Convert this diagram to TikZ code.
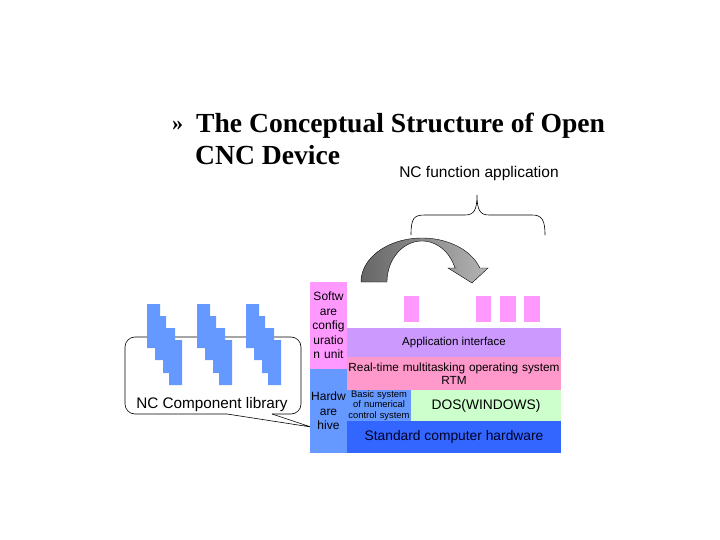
\documentclass[tikz,border=0pt]{standalone}
\usepackage{fontspec}
\setmainfont{Liberation Sans}
\newfontfamily\titlefont{Liberation Serif}
\definecolor{softpink}{HTML}{FF99FF}
\definecolor{hiveblue}{HTML}{6699FF}
\definecolor{applav}{HTML}{CC99FF}
\definecolor{rtpink}{HTML}{FF99CC}
\definecolor{dosgreen}{HTML}{CCFFCC}
\definecolor{stdblue}{HTML}{3366FF}
\definecolor{arrowdark}{HTML}{666666}
\definecolor{arrowlight}{HTML}{B4B4B4}
\tikzset{
  blk/.style={inner sep=0pt, outer sep=0pt, align=center},
  fs/.style={font=\fontsize{#1}{#1}\selectfont},
}
\begin{document}
\begin{tikzpicture}[x=1pt,y=-1pt]
\useasboundingbox (0,0) rectangle (720,540);
% title
\node[anchor=base west, inner sep=0, font=\titlefont\bfseries\fontsize{22}{22}\selectfont] (bullet) at (172,131) {»};
\node[anchor=base west, inner sep=0, font=\titlefont\bfseries\fontsize{27.6}{27.6}\selectfont] (title1) at (196,133) {The Conceptual Structure of Open};
\node[anchor=base west, inner sep=0, font=\titlefont\bfseries\fontsize{27.6}{27.6}\selectfont] (title2) at (195,165) {CNC Device};
\node[blk, fs=15.5] (ncfa) at (479,173) {NC function application};
% brace
\draw[line width=0.6pt] (411,235) .. controls (411,218) and (414,215) .. (425,215) -- (465,215) .. controls (474,215) and (477,210) .. (477,195) .. controls (477,210) and (480,215) .. (489,215) -- (532,215) .. controls (542,215) and (545,220) .. (545,235);
% curved arrow
\shade[left color=arrowdark, right color=arrowlight, draw=black, line width=0.4pt]
  plot[domain=180:18.5, samples=50] ({422+61*cos(\x)}, {282-44*sin(\x)})
  -- (488,268) -- (472,283) -- (448,268) -- (455,268)
  -- plot[domain=20:180, samples=50] ({422+35*cos(\x)}, {282-41*sin(\x)}) -- cycle;
% callout
\coordinate (tailtip) at (311,427);
\draw[line width=0.6pt, rounded corners=10] (227,414) -| (125,337) -| (301,414) -- (272,414);
\draw[line width=0.6pt] (272,414) -- (tailtip) -- (227,414);
\node[blk, fs=15.3] (lib) at (212,405) {NC Component library};
% staircases
\foreach \o in {0,50,99}{
  \fill[hiveblue, shift={(\o,0)}] (147,304) -- (160,304) -- (160,316) -- (166,316) -- (166,328) -- (175,328) -- (175,340) -- (182,340) -- (182,385) -- (169,385) -- (169,373) -- (163,373) -- (163,360) -- (155,360) -- (155,348) -- (147,348) -- cycle;
}
% small pink blocks
\fill[softpink] (404,296) rectangle (419,322);
\fill[softpink] (476,296) rectangle (491,322);
\fill[softpink] (500,296) rectangle (516,322);
\fill[softpink] (524,296) rectangle (540,322);
% layered blocks
\node[blk, fill=softpink, minimum width=37pt, minimum height=87pt, font=\fontsize{12}{14.5}\selectfont, text width=37pt] (soft) at (328.5,325.5) {Softw\\are\\config\\uratio\\n unit};
\node[blk, fill=hiveblue, minimum width=37pt, minimum height=84pt, font=\fontsize{12}{14.5}\selectfont, text width=37pt] (hive) at (328.5,411) {Hardw\\are\\hive};
\node[blk, fill=applav, minimum width=214pt, minimum height=29pt, fs=11.5] (app) at (454,342.5) {Application interface};
\node[blk, fill=rtpink, minimum width=214pt, minimum height=33pt, font=\fontsize{11.8}{13}\selectfont, text width=214pt] (rt) at (454,373.5) {Real-time multitasking operating system\\RTM};
\node[blk, fill=hiveblue, minimum width=64pt, minimum height=31pt, font=\fontsize{9.4}{10.5}\selectfont, text width=64pt] (basic) at (379,405.5) {Basic system\\of numerical\\control system};
\node[blk, fill=dosgreen, minimum width=150pt, minimum height=31pt, fs=13.8] (dos) at (486,405.5) {DOS(WINDOWS)};
\node[blk, fill=stdblue, minimum width=214pt, minimum height=32pt, fs=13.8, text=black!85!blue] (std) at (454,437) {Standard computer hardware};
\end{tikzpicture}
\end{document}
